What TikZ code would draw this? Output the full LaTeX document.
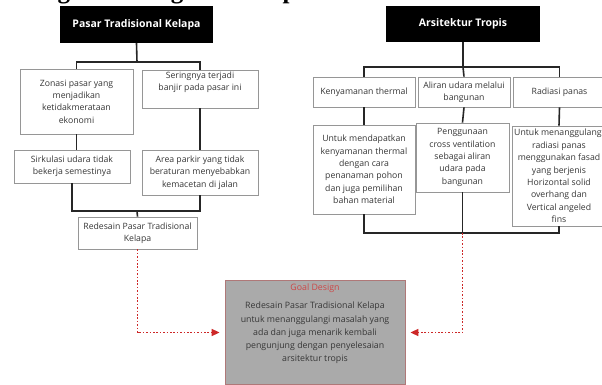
\documentclass[tikz,border=0pt]{standalone}
\usepackage{fontspec}
\setmainfont{Open Sans}
\newfontfamily\headfont{Liberation Serif}
\usetikzlibrary{arrows.meta}
\definecolor{boxline}{RGB}{150,150,150}
\definecolor{txt}{RGB}{55,55,55}
\definecolor{redln}{RGB}{205,40,40}
\definecolor{goalfill}{RGB}{170,170,170}
\definecolor{goalline}{RGB}{175,120,120}
\definecolor{goaltitle}{RGB}{205,70,70}
\begin{document}
\begin{tikzpicture}[x=1pt,y=-1pt,
  cbox/.style={draw=boxline, line width=0.8pt, fill=white, align=center, text=txt,
    font=\fontsize{8.7}{12.4}\selectfont, inner sep=1.5pt, anchor=center},
  hbox/.style={fill=black, text=white, font=\bfseries\fontsize{10.5}{12}\selectfont, anchor=center},
  conn/.style={draw=black!85, line width=1.6pt},
  reddot/.style={draw=redln, line width=1.6pt, dash pattern=on 1.6pt off 1.8pt,
    -{Triangle[length=8pt,width=7pt,fill=redln]}, shorten >=5pt}]
\useasboundingbox (0,0) rectangle (602,385);
\fill[white] (0,0) rectangle (602,385);
\node[anchor=base west, font=\headfont\bfseries\fontsize{25}{25}\selectfont] (title) at (25,-1) {Bagan Kerangka Konsep};

% left tree
\node[hbox, minimum width=153, minimum height=37] (pasar) at (136.5,24.5) {Pasar Tradisional Kelapa};
\node[cbox, minimum width=113, minimum height=65] (A) at (76.5,101.5) {Zonasi pasar yang\\menjadikan\\ketidakmerataan\\ekonomi};
\node[cbox, minimum width=116, minimum height=38] (B) at (200,89) {Seringnya terjadi\\banjir pada pasar ini\\[3pt]};
\node[cbox, minimum width=116, minimum height=33] (C) at (72,166.5) {Sirkulasi udara tidak\\bekerja semestinya};
\node[cbox, minimum width=116, minimum height=45] (D) at (200,172.5) {Area parkir yang tidak\\beraturan menyebabkan\\kemacetan di jalan};
\node[cbox, minimum width=119, minimum height=32] (E) at (137.5,233) {Redesain Pasar Tradisional\\Kelapa};
\coordinate (jL1) at (137,62);
\coordinate (jL2) at (137,211);
\draw[conn] (pasar.south) -- (jL1);
\draw[conn] (A.north) |- (jL1) -| (B.north);
\draw[conn] (A.south) -- (A.south |- C.north);
\draw[conn] (B.south) -- (D.north);
\draw[conn] (C.south) |- (jL2) -| (D.south);
\draw[conn] (jL2) -- (E.north);

% right tree
\node[hbox, minimum width=154, minimum height=36] (arsit) at (463,24) {Arsitektur Tropis};
\node[cbox, minimum width=102, minimum height=30] (F) at (364,92) {Kenyamanan thermal};
\node[cbox, minimum width=92, minimum height=30] (G) at (464,92) {Aliran udara melalui\\bangunan};
\node[cbox, minimum width=93, minimum height=30] (H) at (559.5,92) {Radiasi panas};
\node[cbox, minimum width=102, minimum height=89] (I) at (364,169.5) {Untuk mendapatkan\\kenyamanan thermal\\dengan cara\\penanaman pohon\\dan juga pemilihan\\bahan material};
\node[cbox, minimum width=93, minimum height=69] (J) at (462.5,157.5) {Penggunaan\\cross ventilation\\sebagai aliran\\udara pada\\bangunan};
\node[cbox, minimum width=94, minimum height=100] (K) at (559,176) {Untuk menanggulangi\\radiasi panas\\menggunakan fasad\\yang berjenis\\Horizontal solid\\overhang dan\\Vertical angeled\\fins};
\coordinate (jR1) at (463,67);
\coordinate (jR2) at (462.5,233);
\draw[conn] (arsit.south) -- (jR1);
\draw[conn] (F.north) |- (jR1) -| (H.north);
\draw[conn] (jR1) -- (G.north);
\draw[conn] (F.south) -- (I.north);
\draw[conn] (G.south) -- (J.north);
\draw[conn] (H.south) -- (K.north);
\draw[conn] (I.south) |- (jR2) -| (K.south);
\draw[conn] (J.south) -- (jR2);

% goal
\node[draw=goalline, fill=goalfill, line width=0.8pt, minimum width=180, minimum height=101,
  align=center, text=txt, font=\fontsize{8.8}{13.3}\selectfont, anchor=center] (goal) at (315,332.5)
  {{\color{goaltitle}Goal Design}\\[5pt]Redesain Pasar Tradisional Kelapa\\untuk menanggulangi masalah yang\\ada dan juga menarik kembali\\pengunjung dengan penyelesaian\\arsitektur tropis\\[6pt]\mbox{}};
\draw[reddot] (E.south) |- (goal.west);
\draw[reddot] (jR2) |- (goal.east);
\end{tikzpicture}
\end{document}
